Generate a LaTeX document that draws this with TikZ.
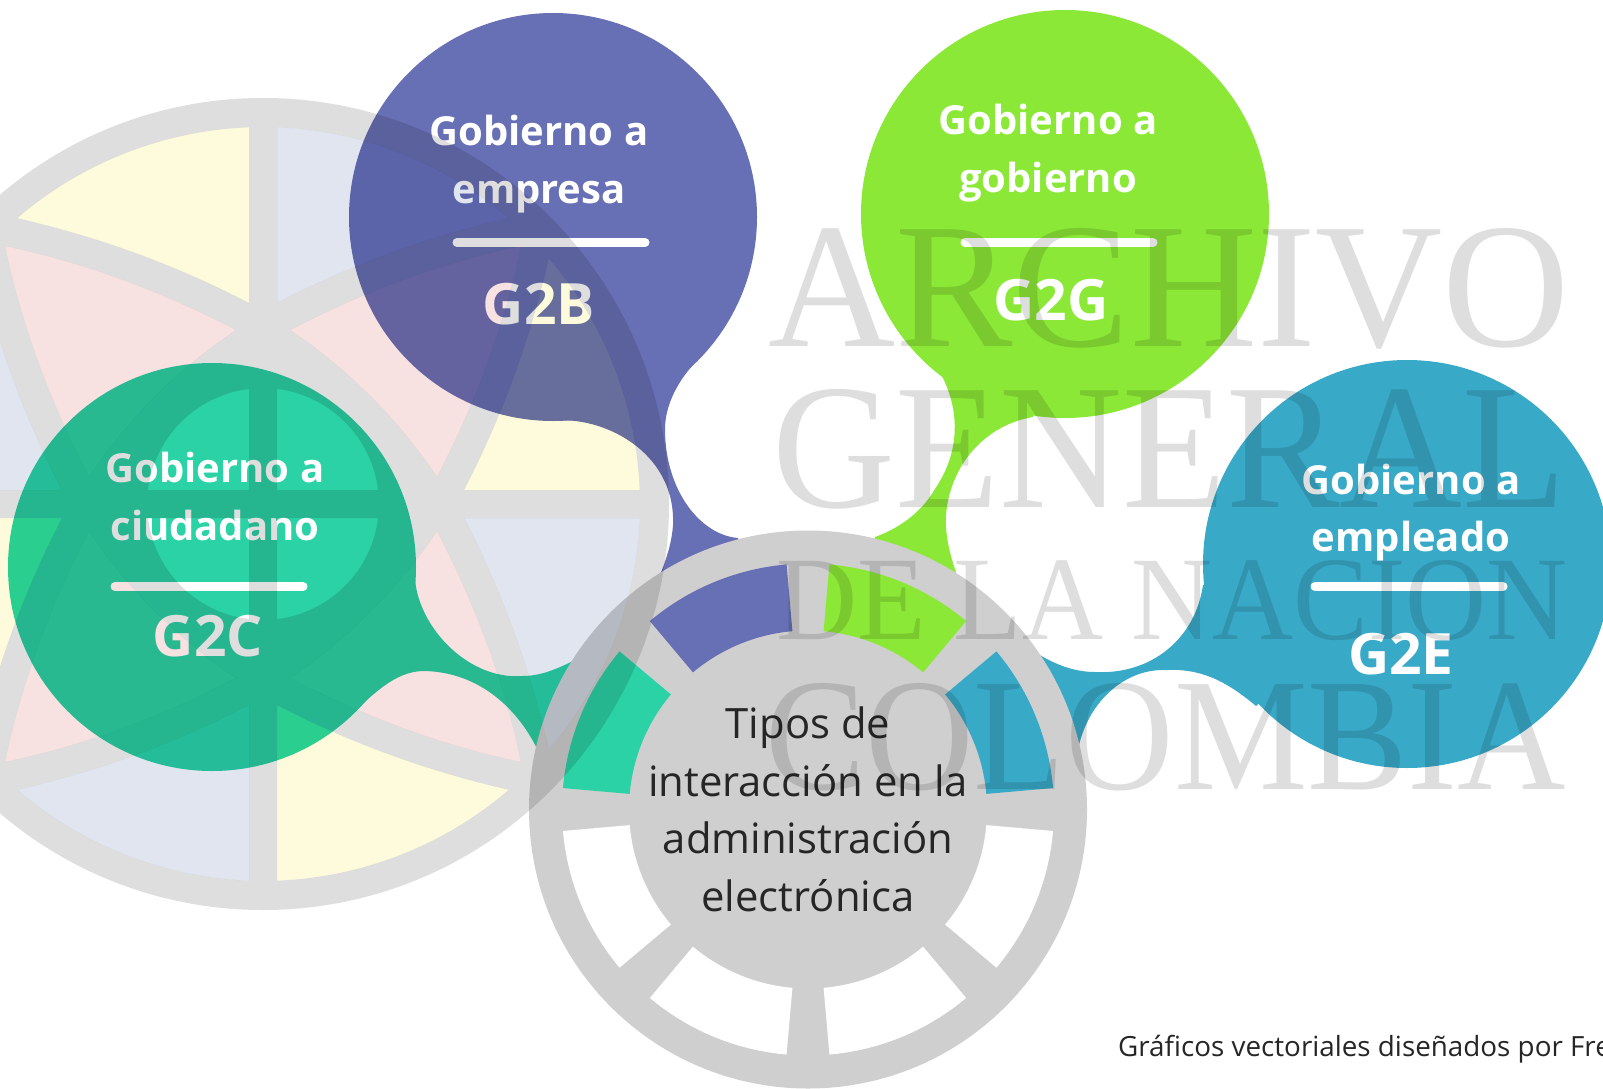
\documentclass[tikz,border=0pt]{standalone}
\usepackage{fontspec}
\setmainfont{Open Sans}
\newfontfamily\wmfont{Liberation Serif}
\definecolor{cblue}{HTML}{6870B5}
\definecolor{cgreen}{HTML}{8BE836}
\definecolor{cteal}{HTML}{2BD2A5}
\definecolor{csky}{HTML}{39A9C8}
\definecolor{cwheel}{HTML}{CFCFCF}
\definecolor{cwm}{HTML}{DEDEDE}
\definecolor{lyellow}{HTML}{FEFBDD}
\definecolor{lpink}{HTML}{F7E1E1}
\definecolor{lblue}{HTML}{E0E5EF}
\tikzset{
  bubble/.style={circle,inner sep=0pt,minimum size=408pt},
  wheelnode/.style={circle,inner sep=0pt,minimum size=558pt,fill=cwheel},
  lbl/.style={white,font=\fontsize{40}{48}\selectfont\bfseries,inner sep=0pt,anchor=base},
  codetxt/.style={white,font=\fontsize{57}{60}\selectfont\bfseries,inner sep=0pt,anchor=base},
  hubtext/.style={text=black!85,font=\fontsize{41.8}{48}\selectfont,inner sep=0pt,anchor=base},
  bar/.style={white,line width=9pt,line cap=round},
  wm/.style={text=cwm,inner sep=0pt,anchor=north west,font=\wmfont},
}
\newcommand{\wheelsec}[3]{%
  \fill[#3] (#1:246pt) arc[start angle=#1,end angle=#2,radius=246pt]
     -- (#2:179pt) arc[start angle=#2,end angle=#1,radius=179pt] -- cycle;}
% logo pieces, u/v local with mirror signs \sx,\sy (v up)
\newcommand{\pathA}{({263+\sx*14},{504-\sy*376.7}) .. controls ({263+\sx*99.1},{504-\sy*373.4}) and ({263+\sx*181.2},{504-\sy*341.4}) .. ({263+\sx*245.8},{504-\sy*285.8}) .. controls ({263+\sx*168},{504-\sy*268}) and ({263+\sx*91},{504-\sy*241}) .. ({263+\sx*14},{504-\sy*201}) -- cycle }
\newcommand{\pathC}{({263+\sx*376.7},{504-\sy*14}) .. controls ({263+\sx*373.4},{504-\sy*99.1}) and ({263+\sx*341.4},{504-\sy*181.2}) .. ({263+\sx*285.8},{504-\sy*245.8}) .. controls ({263+\sx*268},{504-\sy*168}) and ({263+\sx*241},{504-\sy*91}) .. ({263+\sx*201},{504-\sy*14}) -- cycle }
\newcommand{\pathK}{({263+\sx*27},{504-\sy*174}) .. controls ({263+\sx*104},{504-\sy*214}) and ({263+\sx*181},{504-\sy*242}) .. ({263+\sx*258},{504-\sy*258}) .. controls ({263+\sx*242},{504-\sy*181}) and ({263+\sx*214},{504-\sy*104}) .. ({263+\sx*174},{504-\sy*27}) .. controls ({263+\sx*135},{504-\sy*85}) and ({263+\sx*85},{504-\sy*135}) .. ({263+\sx*27},{504-\sy*174}) -- cycle }
\newcommand{\pathI}{({263+\sx*14},{504-\sy*14}) -- ({263+\sx*14},{504-\sy*115.1}) .. controls ({263+\sx*66.9},{504-\sy*108.6}) and ({263+\sx*108.6},{504-\sy*66.9}) .. ({263+\sx*115.1},{504-\sy*14}) -- cycle }
\begin{document}
\begin{tikzpicture}[x=1pt,y=1pt,yscale=-1]
\useasboundingbox (0,0) rectangle (1603,1089);
\fill[white] (0,0) rectangle (1603,1089);
% bubbles
\node[bubble,fill=cblue]  (bb) at (553,217) {};
\node[bubble,fill=cgreen] (gb) at (1065,214) {};
\node[bubble,fill=cteal]  (lb) at (212,567) {};
\node[bubble,fill=csky]   (rb) at (1407,564) {};
\node[circle,inner sep=0pt,minimum size=2pt] (hc) at (808,809.5) {};
% tails
\fill[cblue] (bb.center) -- (553,421) .. controls (600,415) and (676,450) .. (673,525)
   .. controls (672,540) and (668,555) .. (660,575) -- (hc.center) -- (738,538)
   .. controls (700,535) and (665,490) .. (665,429) .. controls (665,405) and (678,382) .. (692,366) -- cycle;
\fill[cgreen] (gb.center) -- (930,357) .. controls (955,390) and (968,440) .. (935,489)
   .. controls (920,515) and (895,530) .. (875,537) -- (hc.center) -- (956,572)
   .. controls (948,550) and (945,530) .. (946,515) .. controls (950,465) and (985,425) .. (1033,417) -- cycle;
\fill[csky] (rb.center) -- (1203,585) .. controls (1195,640) and (1150,675) .. (1095,672)
   .. controls (1075,672) and (1055,665) .. (1035,652) -- (hc.center) -- (1079,745)
   .. controls (1090,700) and (1125,670) .. (1163,670) .. controls (1200,668) and (1225,680) .. (1256,706) -- cycle;
\fill[cteal] (lb.center) -- (415,580) .. controls (420,630) and (470,680) .. (522,676)
   .. controls (540,676) and (555,670) .. (575,660) -- (hc.center) -- (540,755)
   .. controls (520,710) and (480,672) .. (424,671) .. controls (395,671) and (372,695) .. (348,718) -- cycle;
% wheel
\node[wheelnode] (wheel) at (808,809.5) {};
\begin{scope}[shift={(808,809.5)},yscale=-1]
  \wheelsec{95}{130}{cblue}
  \wheelsec{50}{85}{cgreen}
  \wheelsec{5}{40}{csky}
  \wheelsec{140}{175}{cteal}
  \wheelsec{-40}{-5}{white}
  \wheelsec{-85}{-50}{white}
  \wheelsec{-130}{-95}{white}
  \wheelsec{-175}{-140}{white}
\end{scope}
% bars
\draw[bar] (457,242.5) -- (645,242.5);
\draw[bar] (965,242.5) -- (1153,242.5);
\draw[bar] (115,586.5) -- (303,586.5);
\draw[bar] (1315,586.5) -- (1503,586.5);
% labels
\node[lbl] (t1a) at (539,146) {Gobierno a};
\node[lbl] (t1b) at (539,203.5) {empresa};
\node[codetxt] (t1c) at (539,324) {G2B};
\node[lbl] (t2a) at (1048,135) {Gobierno a};
\node[lbl] (t2b) at (1048,192.5) {gobierno};
\node[codetxt] (t2c) at (1051,320.5) {G2G};
\node[lbl] (t3a) at (215,482) {Gobierno a};
\node[lbl] (t3b) at (215,540) {ciudadano};
\node[codetxt] (t3c) at (208,656) {G2C};
\node[lbl] (t4a) at (1411,494) {Gobierno a};
\node[lbl] (t4b) at (1411,551) {empleado};
\node[codetxt] (t4c) at (1401,674.5) {G2E};
\node[hubtext] (h1) at (808,738) {Tipos de};
\node[hubtext] (h2) at (808,796) {interacción en la};
\node[hubtext] (h3) at (808,853) {administración};
\node[hubtext] (h4) at (808,911) {electrónica};
\node[anchor=base west,inner sep=0pt,text=black!85,font=\fontsize{27.8}{30}\selectfont] (foot) at (1118,1056) {Gráficos vectoriales diseñados por Fre};
% watermark
\begin{scope}[blend mode=multiply]
  \fill[cwm,even odd rule] (263,504) circle[radius=406pt]
    foreach \sx/\sy in {1/1,-1/1,1/-1,-1/-1} { \pathA \pathC \pathK \pathI };
  \foreach \sx/\sy/\ca/\cc in {1/1/lblue/lyellow,-1/1/lyellow/lblue,1/-1/lyellow/lblue,-1/-1/lblue/lyellow}{
    \fill[\ca] \pathA;
    \fill[\cc] \pathC;
    \fill[lpink] \pathK;
  }
  \node[wm] (w1) at (768,228) {\resizebox{801pt}{118pt}{ARCHIVO}};
  \node[wm] (w2) at (772,389) {\resizebox{794pt}{118pt}{GENERAL}};
  \node[wm] (w3) at (776,560) {\resizebox{791pt}{79pt}{DE LA NACION}};
  \node[wm] (w4) at (765,683) {\resizebox{801pt}{106pt}{COLOMBIA}};
\end{scope}
\end{tikzpicture}
\end{document}
